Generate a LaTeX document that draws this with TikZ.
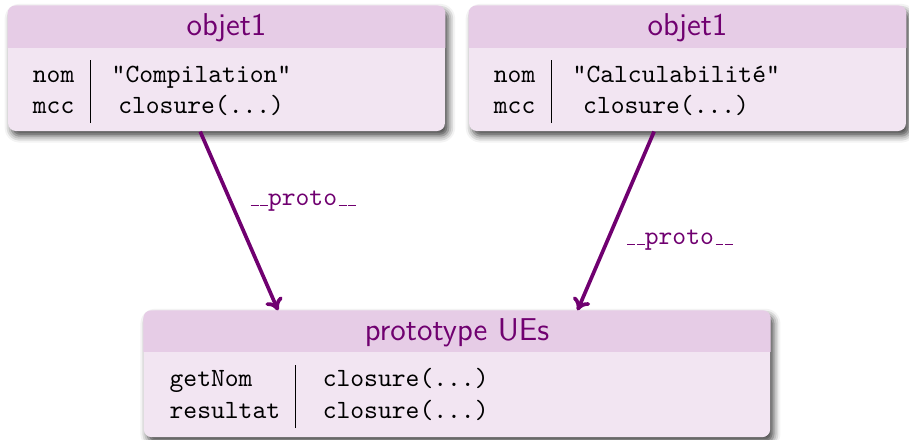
\documentclass[tikz,border=0pt]{standalone}
\usetikzlibrary{arrows.meta, shadows.blur, positioning, calc}
\definecolor{ue_violet}{RGB}{112,0,112}
\definecolor{ue_bandeau}{RGB}{230,204,230}
\definecolor{ue_corps}{RGB}{242,229,242}
% tiret bas court, comme en codage OT1
\newcommand{\tiret}{\leavevmode\kern.06em\vbox{\hrule width.3em}}

\begin{document}
\begin{tikzpicture}[x=0.38pt, y=-0.38pt, >={To[length=4.5pt, width=7pt]},
    bloc/.style={rectangle, rounded corners=3pt, fill=ue_corps, inner sep=0pt,
      blur shadow={shadow xshift=1.3pt, shadow yshift=-1.8pt, shadow blur radius=2.6pt, shadow opacity=75}},
    titre/.style={anchor=base, font=\sffamily\large, text=ue_violet},
    contenu/.style={anchor=north west, inner sep=0pt, font=\ttfamily},
    lien/.style={->, ue_violet, line width=1.4pt},
    etiquette/.style={font=\ttfamily, text=ue_violet, right=3pt}]
  \useasboundingbox (0,0) rectangle (909,439);

  % les trois blocs
  \node[bloc, minimum width=166pt, minimum height=47.5pt] (obj1) at (226.5,68.5) {};
  \node[bloc, minimum width=166pt, minimum height=47.5pt] (obj2) at (687.5,68.5) {};
  \node[bloc, minimum width=238pt, minimum height=48pt] (ue) at (457,374) {};

  % bandeaux de titre
  \foreach \b in {obj1, obj2, ue} {
    \begin{scope}
      \clip (\b.north west) rectangle ([yshift=-15.8pt]\b.north east);
      \fill[ue_bandeau, rounded corners=3pt] (\b.south west) rectangle (\b.north east);
    \end{scope}
  }

  \node[titre] at ($(obj1.north)+(0,30)$) {objet1};
  \node[titre] at ($(obj2.north)+(0,30)$) {objet1};
  \node[titre] at ($(ue.north)+(0,30)$) {prototype UEs};

  \node[contenu] (obj1c) at ($(obj1.north west)+(9,54)$) {%
    \begin{tabular}{l|@{\hspace{8pt}}l}
      nom & "Compilation" \\
      mcc & \hspace{2.5pt}closure(...)
    \end{tabular}};
  \node[contenu] (obj2c) at ($(obj2.north west)+(9,54)$) {%
    \begin{tabular}{l|@{\hspace{8pt}}l}
      nom & "Calculabilité" \\
      mcc & \hspace{4pt}closure(...)
    \end{tabular}};
  \node[contenu] (uec) at ($(ue.north west)+(10,54)$) {%
    \begin{tabular}{l|@{\hspace{10pt}}l}
      getNom & closure(...) \\
      resultat & closure(...)
    \end{tabular}};

  % liens vers le prototype
  \draw[lien] ([xshift=-10pt]obj1.south) -- node[etiquette, pos=.39] {\tiret\tiret proto\tiret\tiret} ([xshift=-68pt]ue.north);
  \draw[lien] ([xshift=-12.7pt]obj2.south) -- node[etiquette, pos=.61] {\tiret\tiret proto\tiret\tiret} ([xshift=45.8pt]ue.north);
\end{tikzpicture}
\end{document}
